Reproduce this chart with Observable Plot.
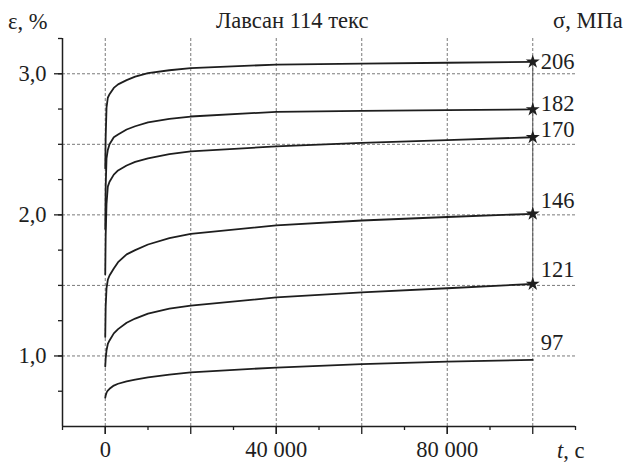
<!DOCTYPE html>
<html><head><meta charset="utf-8">
<script src="https://cdn.jsdelivr.net/npm/d3@7"></script>
<script src="https://cdn.jsdelivr.net/npm/@observablehq/plot@0.6"></script>
<style>
body{margin:0;background:#fff;}
#wrap{position:relative;width:630px;height:462px;font-family:"Liberation Serif","Times New Roman",serif;color:#222;overflow:hidden;}
.lbl{position:absolute;font-size:22.5px;line-height:20px;white-space:nowrap;}
#wrap svg{position:absolute;left:0;top:0;}
</style></head><body>
<div id="wrap">
</div>
<script>
// ---- data ----
const title = "Лавсан 114 текс";
const yTitle = "ε, %";
const sTitle = "σ, МПа";
const stresses = [206, 182, 170, 146, 121, 97];          // σ, MPa
const times = [0, 100, 300, 600, 1000, 2000, 3000, 5000, 7000, 10000, 15000, 20000, 40000, 60000, 80000, 100000]; // t, s
const eps206 = [2.33, 2.55, 2.76, 2.83, 2.855, 2.90, 2.925, 2.955, 2.98, 3.005, 3.025, 3.04, 3.065, 3.072, 3.078, 3.085];
const eps182 = [1.90, 2.20, 2.40, 2.46, 2.50, 2.55, 2.57, 2.605, 2.628, 2.655, 2.68, 2.697, 2.73, 2.737, 2.742, 2.747];
const eps170 = [1.58, 1.85, 2.08, 2.20, 2.235, 2.285, 2.315, 2.35, 2.375, 2.40, 2.43, 2.45, 2.485, 2.51, 2.53, 2.55];
const eps146 = [1.135, 1.35, 1.48, 1.54, 1.57, 1.62, 1.665, 1.72, 1.75, 1.79, 1.835, 1.865, 1.925, 1.96, 1.985, 2.007];
const eps121 = [0.925, 0.98, 1.04, 1.085, 1.11, 1.16, 1.19, 1.235, 1.265, 1.30, 1.335, 1.357, 1.415, 1.45, 1.48, 1.51];
const eps97  = [0.705, 0.72, 0.74, 0.755, 0.767, 0.79, 0.803, 0.82, 0.832, 0.848, 0.868, 0.884, 0.918, 0.942, 0.96, 0.972];
const series = [eps206, eps182, eps170, eps146, eps121, eps97];
const starred = [206, 182, 170, 146, 121];
const xMajorTicks = [0, 20000, 40000, 60000, 80000, 100000];
const xMinorTicks = [-10000, 10000, 30000, 50000, 70000, 90000, 110000];
const xLabels = [0, 40000, 80000];
const xGrid = [0, 20000, 40000, 60000, 80000, 100000];
const yTicks = [0.75, 1.0, 1.25, 1.5, 1.75, 2.0, 2.25, 2.5, 2.75, 3.0, 3.25];
const yLabels = [1, 2, 3];
const yGrid = [1.0, 1.5, 2.0, 2.5, 3.0];

// ---- build tables ----
const rows = [];
series.forEach((vals, i) => vals.forEach((e, j) => rows.push({s: stresses[i], t: times[j], e})));
const ends = series.map((vals, i) => ({s: stresses[i], t: times[times.length - 1], e: vals[vals.length - 1]}));
const stars = ends.filter(d => starred.includes(d.s));
const starMin = d3.min(stars, d => d.e), starMax = d3.max(stars, d => d.e);
const labelDy = [0, -6, -7, -13, -14, -17]; // layout offsets for the σ labels

const ink = "#1e1e1e";
const gridStyle = {stroke: "#7a7a7a", strokeOpacity: 1, strokeWidth: 1, strokeDasharray: "3,2"};
const fmtX = d => d3.format(",")(d).replace(/,/g, " ");

const plot = Plot.plot({
  width: 630, height: 462,
  marginLeft: 62, marginRight: 55, marginTop: 38, marginBottom: 36,
  x: {domain: [-10000, 110000], label: null},
  y: {domain: [0.5, 3.25], label: null},
  style: {fontFamily: "'Liberation Serif','Times New Roman',serif", fontSize: "22px", color: ink, background: "transparent", overflow: "visible"},
  marks: [
    Plot.gridX(xGrid, gridStyle),
    Plot.gridY(yGrid, gridStyle),
    Plot.ruleX([100000], {y1: starMin, y2: starMax, stroke: "#555", strokeWidth: 1}),
    Plot.line(rows, {x: "t", y: "e", z: "s", stroke: ink, strokeWidth: 1.8, strokeLinejoin: "round"}),
    Plot.dot(stars, {x: "t", y: "e", symbol: "star", fill: ink, stroke: "none", r: 4.4}),
    ...ends.map((d, i) => Plot.text([d], {x: "t", y: "e", text: "s", dx: 8, dy: labelDy[i], textAnchor: "start", fontSize: 22.5, fill: ink})),
    Plot.ruleX([-10000], {stroke: ink, strokeWidth: 1.5}),
    Plot.ruleY([0.5], {stroke: ink, strokeWidth: 1.5}),
    Plot.axisX(xMinorTicks, {tickSize: 4, text: null, stroke: ink, strokeWidth: 1.3, label: null}),
    Plot.axisX(xMajorTicks, {tickSize: 8, text: null, stroke: ink, strokeWidth: 1.3, label: null}),
    Plot.axisX(xLabels, {tickSize: 8, tickPadding: 7, tickFormat: fmtX, fontSize: 22.5, label: null, fill: ink, stroke: ink, strokeWidth: 1.3}),
    Plot.axisY(yTicks, {tickSize: 4, text: null, stroke: ink, strokeWidth: 1.3, label: null}),
    Plot.axisY(yLabels, {tickSize: 8, tickPadding: 8, tickFormat: d => d.toFixed(1).replace(".", ","), fontSize: 22.5, stroke: ink, strokeWidth: 1.3, label: null, fill: ink})
  ]
});

const wrap = document.getElementById("wrap");
wrap.appendChild(plot);
function addLabel(html, left, top) {
  const el = document.createElement("div");
  el.className = "lbl";
  el.innerHTML = html;
  el.style.left = left + "px";
  el.style.top = top + "px";
  wrap.appendChild(el);
}
addLabel(title, 216, 11);
addLabel(yTitle, 8, 12);
addLabel(sTitle, 553, 11);
addLabel("<i>t</i>, с", 557, 441);
</script>
</body></html>
